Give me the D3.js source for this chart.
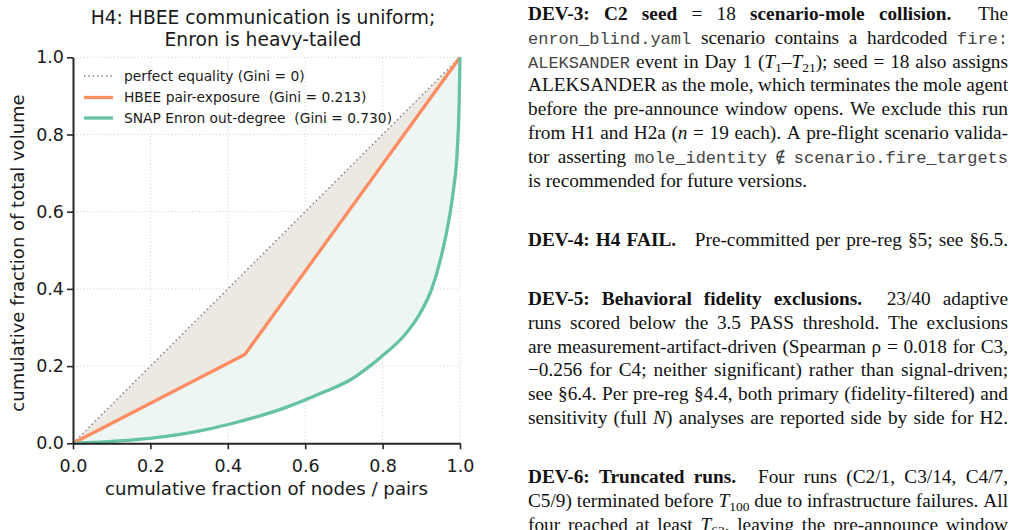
<!DOCTYPE html>
<html>
<head>
<meta charset="utf-8">
<script src="https://cdn.jsdelivr.net/npm/d3@7"></script>
<style>
  html, body { margin: 0; padding: 0; background: #fff; }
  svg { display: block; }
</style>
</head>
<body>
<svg id="chart" width="1017" height="530"></svg>
<script>
// ---------------- data ----------------
const tickValues = [0, 0.2, 0.4, 0.6, 0.8, 1.0];
const tickLabels = ["0.0", "0.2", "0.4", "0.6", "0.8", "1.0"];

const equalityX = [0, 1];
const equalityY = [0, 1];

const hbeeX = [0, 0.444, 1.0];
const hbeeY = [0, 0.230, 1.0];

const enronX = [0, 0.311, 0.414, 0.556, 0.651, 0.716, 0.767, 0.802, 0.853, 0.897, 0.927, 0.948, 0.964, 0.975, 0.983, 0.993, 0.998, 1.0];
const enronY = [0, 0.029, 0.052, 0.095, 0.134, 0.164, 0.200, 0.229, 0.276, 0.337, 0.400, 0.470, 0.540, 0.600, 0.656, 0.760, 0.890, 1.0];

const seriesLabels = [
  "perfect equality (Gini = 0)",
  "HBEE pair-exposure  (Gini = 0.213)",
  "SNAP Enron out-degree  (Gini = 0.730)"
];
const titleLines = ["H4: HBEE communication is uniform;", "Enron is heavy-tailed"];
const xLabel = "cumulative fraction of nodes / pairs";
const yLabel = "cumulative fraction of total volume";

// ---------------- chart ----------------
const svg = d3.select("#chart");
svg.append("rect").attr("width", 1017).attr("height", 530).attr("fill", "#fff");

const x = d3.scaleLinear().domain([0, 1]).range([73, 460]);
const y = d3.scaleLinear().domain([0, 1]).range([443.3, 57.3]);

const FONT = "'DejaVu Sans', sans-serif";
const ORANGE = "#fc8d62", GREEN = "#66c2a5";

// grid
const grid = svg.append("g");
tickValues.filter(d => d > 0).forEach(t => {
  grid.append("line").attr("x1", x(t)).attr("x2", x(t)).attr("y1", y(0)).attr("y2", y(1))
    .attr("stroke", "#cfcfcf").attr("stroke-width", 0.9).attr("stroke-dasharray", "1.2,2.2");
  grid.append("line").attr("x1", x(0)).attr("x2", x(1)).attr("y1", y(t)).attr("y2", y(t))
    .attr("stroke", "#cfcfcf").attr("stroke-width", 0.9).attr("stroke-dasharray", "1.2,2.2");
});

const enronPts = enronX.map((v, i) => [v, enronY[i]]);
const hbeePts = hbeeX.map((v, i) => [v, hbeeY[i]]);

// fills
svg.append("path").datum(enronPts)
  .attr("d", d3.area().x(d => x(d[0])).y0(d => y(d[0])).y1(d => y(d[1])).curve(d3.curveMonotoneX))
  .attr("fill", "#edf6f2");
svg.append("path").datum(hbeePts)
  .attr("d", d3.area().x(d => x(d[0])).y0(d => y(d[0])).y1(d => y(d[1])))
  .attr("fill", "#ebe9e2");

// equality line
svg.append("path").datum(equalityX.map((v, i) => [v, equalityY[i]]))
  .attr("d", d3.line().x(d => x(d[0])).y(d => y(d[1])))
  .attr("fill", "none").attr("stroke", "#777").attr("stroke-width", 1.4)
  .attr("stroke-dasharray", "1.4,3");

// HBEE
svg.append("path").datum(hbeePts)
  .attr("d", d3.line().x(d => x(d[0])).y(d => y(d[1])))
  .attr("fill", "none").attr("stroke", ORANGE).attr("stroke-width", 3.3)
  .attr("stroke-linejoin", "round");

// Enron
svg.append("path").datum(enronPts)
  .attr("d", d3.line().x(d => x(d[0])).y(d => y(d[1])).curve(d3.curveMonotoneX))
  .attr("fill", "none").attr("stroke", GREEN).attr("stroke-width", 3.3)
  .attr("stroke-linejoin", "round");

// axes
const fmt = d => tickLabels[tickValues.indexOf(d)];
const xAxis = svg.append("g").attr("transform", `translate(0,${y(0)})`)
  .call(d3.axisBottom(x).tickValues(tickValues).tickFormat(fmt).tickSize(6).tickSizeOuter(0).tickPadding(10));
const yAxis = svg.append("g").attr("transform", `translate(${x(0)},0)`)
  .call(d3.axisLeft(y).tickValues(tickValues).tickFormat(fmt).tickSize(6).tickSizeOuter(0).tickPadding(3));
[xAxis, yAxis].forEach(a => {
  a.select(".domain").attr("stroke", "#262626").attr("stroke-width", 2);
  a.selectAll(".tick line").attr("stroke", "#262626").attr("stroke-width", 1.6);
  a.selectAll(".tick text").attr("font-family", FONT).attr("font-size", 17.5).attr("fill", "#1a1a1a");
});

// labels
svg.append("text").attr("x", 266.5).attr("y", 495).attr("text-anchor", "middle")
  .attr("font-family", FONT).attr("font-size", 18.2).attr("fill", "#1a1a1a").text(xLabel);
svg.append("text").attr("transform", "translate(24,253) rotate(-90)").attr("text-anchor", "middle")
  .attr("font-family", FONT).attr("font-size", 18).attr("fill", "#1a1a1a").text(yLabel);

// title
titleLines.forEach((t, i) => {
  svg.append("text").attr("x", 263).attr("y", 23.5 + i * 22).attr("text-anchor", "middle")
    .attr("font-family", FONT).attr("font-size", 18.7).attr("fill", "#1a1a1a").text(t);
});

// legend
const legY = [76, 97.5, 118];
const legStyles = [
  { stroke: "#777", w: 1.4, dash: "1.4,3" },
  { stroke: ORANGE, w: 3.3, dash: null },
  { stroke: GREEN, w: 3.3, dash: null }
];
seriesLabels.forEach((lab, i) => {
  const ln = svg.append("line").attr("x1", 84).attr("x2", 113).attr("y1", legY[i]).attr("y2", legY[i])
    .attr("stroke", legStyles[i].stroke).attr("stroke-width", legStyles[i].w);
  if (legStyles[i].dash) ln.attr("stroke-dasharray", legStyles[i].dash);
  svg.append("text").attr("x", 124).attr("y", legY[i] + 4.9)
    .attr("font-family", FONT).attr("font-size", 13.8).attr("fill", "#1a1a1a").attr("xml:space", "preserve").text(lab);
});

// ---------------- right-hand text ----------------
const SERIF = "'Liberation Serif', 'Times New Roman', serif";
const MONO = "'Liberation Mono', 'Courier New', monospace";
const FS = 19.3;
const LINE_H = 23.8;
const paragraphs = [
  { y0: 20, lines: [
    { j: true, runs: [["b","DEV-3: C2 seed"],["r"," = 18 "],["b","scenario-mole collision."],["r","  The"]] },
    { j: true, runs: [["m","enron_blind.yaml"],["r"," scenario contains a hardcoded "],["m","fire:"]] },
    { j: true, runs: [["m","ALEKSANDER"],["r"," event in Day 1 ("],["i","T"],["s","1"],["r","–"],["i","T"],["s","21"],["r","); seed = 18 also assigns"]] },
    { j: true, runs: [["r","ALEKSANDER as the mole, which terminates the mole agent"]] },
    { j: true, runs: [["r","before the pre-announce window opens. We exclude this run"]] },
    { j: true, runs: [["r","from H1 and H2a ("],["i","n"],["r"," = 19 each). A pre-flight scenario valida-"]] },
    { j: true, runs: [["r","tor asserting "],["m","mole_identity ∉ scenario.fire_targets"]] },
    { j: false, runs: [["r","is recommended for future versions."]] }
  ]},
  { y0: 246, lines: [
    { j: true, runs: [["b","DEV-4: H4 FAIL."],["r","  Pre-committed per pre-reg §5; see §6.5."]] }
  ]},
  { y0: 305, lines: [
    { j: true, runs: [["b","DEV-5: Behavioral fidelity exclusions."],["r","  23/40 adaptive"]] },
    { j: true, runs: [["r","runs scored below the 3.5 PASS threshold. The exclusions"]] },
    { j: true, runs: [["r","are measurement-artifact-driven (Spearman ρ = 0.018 for C3,"]] },
    { j: true, runs: [["r","−0.256 for C4; neither significant) rather than signal-driven;"]] },
    { j: true, runs: [["r","see §6.4. Per pre-reg §4.4, both primary (fidelity-filtered) and"]] },
    { j: true, runs: [["r","sensitivity (full "],["i","N"],["r",") analyses are reported side by side for H2."]] }
  ]},
  { y0: 483, lines: [
    { j: true, runs: [["b","DEV-6: Truncated runs."],["r","  Four runs (C2/1, C3/14, C4/7,"]] },
    { j: true, runs: [["r","C5/9) terminated before "],["i","T"],["s","100"],["r"," due to infrastructure failures. All"]] },
    { j: true, runs: [["r","four reached at least "],["i","T"],["s","63"],["r",", leaving the pre-announce window"]] }
  ]}
];
const TX0 = 528, TX1 = 1008;
const txt = svg.append("g");

function styleRun(ts, st) {
  ts.attr("font-family", st === "m" ? MONO : SERIF)
    .attr("font-size", st === "m" ? 17 : (st === "s" ? 13.5 : FS))
    .attr("font-weight", st === "b" ? "bold" : "normal")
    .attr("font-style", st === "i" ? "italic" : "normal")
    .attr("fill", st === "m" ? "#444" : "#111");
}

function tokenize(runs) {
  const tokens = [];
  let cur = { runs: [], gap: 0 };
  runs.forEach(([st, t]) => {
    let i = 0;
    while (i < t.length) {
      if (t[i] === " ") {
        let n = 0; while (i < t.length && t[i] === " ") { n++; i++; }
        if (cur.runs.length) tokens.push(cur);
        cur = { runs: [], gap: n >= 2 ? 2 : 1 };
      } else {
        let j = i; while (j < t.length && t[j] !== " ") j++;
        cur.runs.push([st, t.slice(i, j)]);
        i = j;
      }
    }
  });
  if (cur.runs.length) tokens.push(cur);
  return tokens;
}

function drawToken(tok, xPos, yPos) {
  const el = txt.append("text").attr("x", xPos).attr("y", yPos).attr("xml:space", "preserve");
  let shift = 0;
  tok.runs.forEach(([st, t]) => {
    const ts = el.append("tspan").text(t);
    styleRun(ts, st);
    const want = st === "s" ? 4.5 : 0;
    if (want !== shift) { ts.attr("dy", want - shift); shift = want; }
  });
  return el;
}

paragraphs.forEach(p => {
  p.lines.forEach((line, li) => {
    const yPos = p.y0 + li * LINE_H;
    const toks = tokenize(line.runs);
    const els = toks.map(t => drawToken(t, 0, yPos));
    const widths = els.map(e => e.node().getComputedTextLength());
    const spaceW = FS * 0.25, quadW = FS * 0.9;
    const base = toks.map((t, i) => i === 0 ? 0 : (t.gap === 2 ? quadW : spaceW));
    const nG = toks.length - 1;
    const natural = d3.sum(widths) + d3.sum(base);
    let extra = 0;
    if (line.j && nG > 0) extra = (TX1 - TX0 - natural) / nG;
    extra = Math.max(extra, -spaceW * 0.6);
    let xp = TX0;
    els.forEach((e, i) => {
      if (i > 0) xp += base[i] + extra;
      e.attr("x", xp);
      xp += widths[i];
    });
  });
});
</script>
</body>
</html>
